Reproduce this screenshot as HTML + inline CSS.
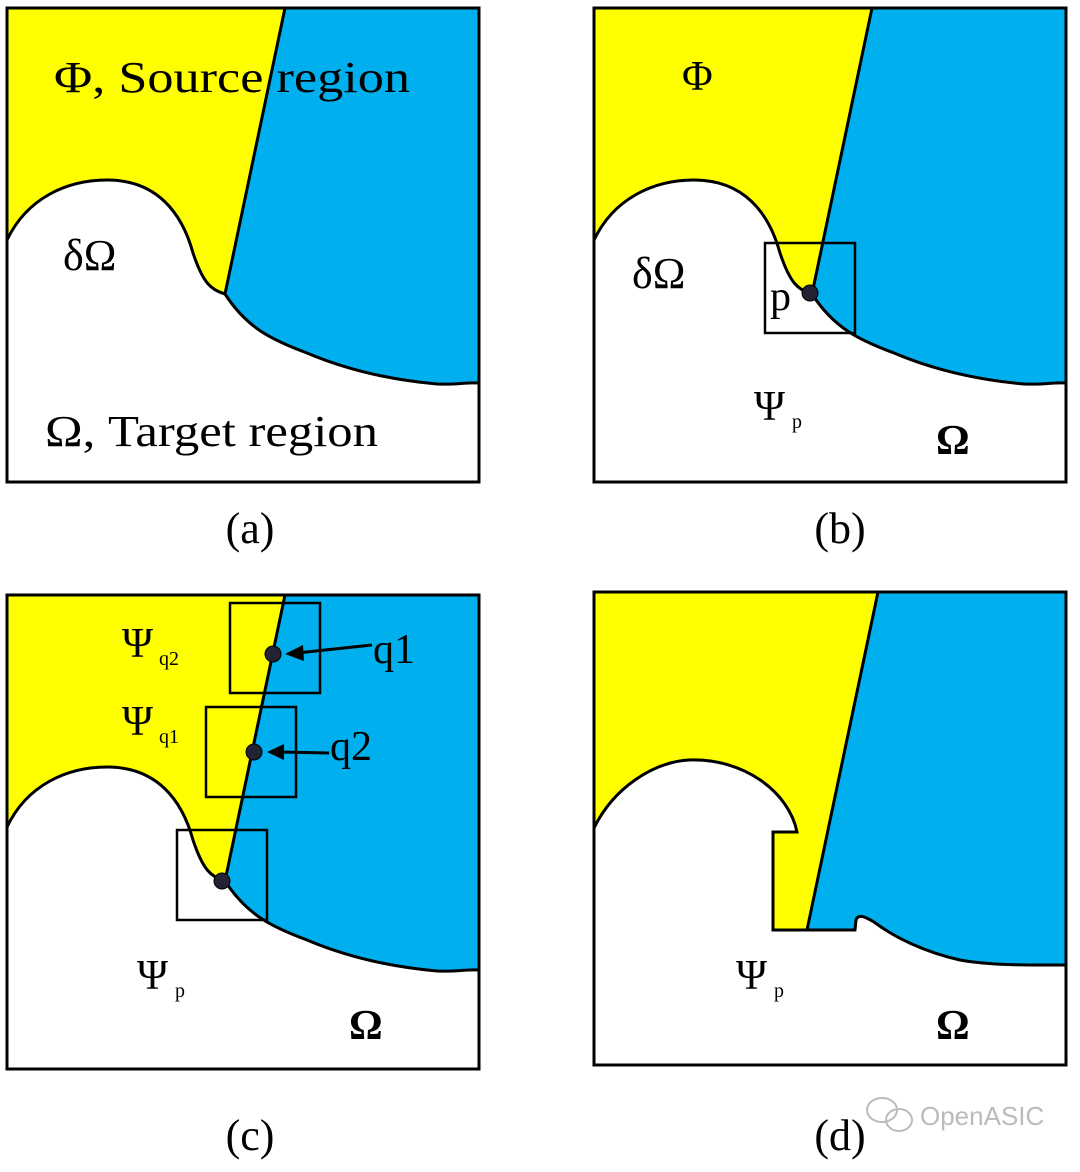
<!DOCTYPE html>
<html><head><style>body{margin:0;background:#fff}</style></head><body>
<svg width="1080" height="1167" viewBox="0 0 1080 1167" xmlns="http://www.w3.org/2000/svg" font-family="Liberation Serif, serif">
<defs>
<path id="wa" d="M0,232 C20,190 60,172 100,172 C150,172 175,205 186,245 C196,275 204,282 218,286 C240,320 265,332 300,345 C340,362 385,372 430,376 C450,377 460,374 472,375 L472,474 L0,474 Z"/>
</defs>
<!-- panel a -->
<g transform="translate(7,8)">
<rect width="472" height="474" fill="#ffff00"/>
<polygon points="278,0 472,0 472,474 150,474 218,286" fill="#00b0ee"/>
<use href="#wa" fill="#fff" stroke="#000" stroke-width="3"/>
<line x1="278" y1="0" x2="218" y2="286" stroke="#000" stroke-width="3"/>
<rect width="472" height="474" fill="none" stroke="#000" stroke-width="3"/>
<text x="47" y="84" font-size="44" textLength="356" lengthAdjust="spacingAndGlyphs">Φ, Source region</text>
<text x="56" y="262" font-size="44">δΩ</text>
<text x="38" y="438" font-size="44" textLength="333" lengthAdjust="spacingAndGlyphs">Ω, Target region</text>
</g>
<text x="250" y="543" font-size="44" text-anchor="middle">(a)</text>
<!-- panel b -->
<g transform="translate(594,8)">
<rect width="472" height="474" fill="#ffff00"/>
<polygon points="278,0 472,0 472,474 150,474 218,286" fill="#00b0ee"/>
<use href="#wa" fill="#fff" stroke="#000" stroke-width="3"/>
<line x1="278" y1="0" x2="218" y2="286" stroke="#000" stroke-width="3"/>
<rect width="472" height="474" fill="none" stroke="#000" stroke-width="3"/>
<rect x="171" y="235" width="90" height="90" fill="none" stroke="#000" stroke-width="2.5"/>
<circle cx="216" cy="285" r="8" fill="#223" stroke="#000"/>
<text x="88" y="82" font-size="42">Φ</text>
<text x="38" y="280" font-size="44">δΩ</text>
<text x="176" y="302" font-size="42">p</text>
<text x="160" y="412" font-size="42">Ψ</text><text x="198" y="420" font-size="20">p</text>
<text x="342" y="446" font-size="42" font-weight="bold">Ω</text>
</g>
<text x="840" y="543" font-size="44" text-anchor="middle">(b)</text>
<!-- panel c -->
<g transform="translate(7,595)">
<rect width="472" height="474" fill="#ffff00"/>
<polygon points="278,0 472,0 472,474 150,474 218,286" fill="#00b0ee"/>
<use href="#wa" fill="#fff" stroke="#000" stroke-width="3"/>
<line x1="278" y1="0" x2="218" y2="286" stroke="#000" stroke-width="3"/>
<rect width="472" height="474" fill="none" stroke="#000" stroke-width="3"/>
<rect x="223" y="8" width="90" height="90" fill="none" stroke="#000" stroke-width="2.5"/>
<rect x="199" y="112" width="90" height="90" fill="none" stroke="#000" stroke-width="2.5"/>
<rect x="170" y="235" width="90" height="90" fill="none" stroke="#000" stroke-width="2.5"/>
<circle cx="266" cy="59" r="8" fill="#223" stroke="#000"/>
<circle cx="247" cy="157" r="8" fill="#223" stroke="#000"/>
<circle cx="215" cy="286" r="8" fill="#223" stroke="#000"/>
<line x1="365" y1="50" x2="290" y2="58" stroke="#000" stroke-width="3"/>
<polygon points="278,59 296,50 297,66" fill="#000"/>
<line x1="322" y1="158" x2="272" y2="157" stroke="#000" stroke-width="3"/>
<polygon points="260,157 277,149 277,165" fill="#000"/>
<text x="366" y="68" font-size="42">q1</text>
<text x="323" y="165" font-size="42">q2</text>
<text x="115" y="62" font-size="42">Ψ</text><text x="152" y="70" font-size="20">q2</text>
<text x="115" y="140" font-size="42">Ψ</text><text x="152" y="148" font-size="20">q1</text>
<text x="130" y="394" font-size="42">Ψ</text><text x="168" y="402" font-size="20">p</text>
<text x="342" y="444" font-size="42" font-weight="bold">Ω</text>
</g>
<text x="250" y="1150" font-size="44" text-anchor="middle">(c)</text>
<!-- panel d -->
<g transform="translate(594,592)">
<rect width="472" height="473" fill="#ffff00"/>
<polygon points="284,0 472,0 472,473 190,473 213,338" fill="#00b0ee"/>
<path d="M0,236 C20,195 60,170 95,168 C150,166 195,200 203,240 L179,240 L179,338 L261,338 L262,328 C264,322 270,324 280,330 C300,345 330,360 366,368 C400,374 440,373 472,373 L472,473 L0,473 Z" fill="#fff" stroke="#000" stroke-width="3"/>
<line x1="284" y1="0" x2="213" y2="338" stroke="#000" stroke-width="3"/>
<rect width="472" height="473" fill="none" stroke="#000" stroke-width="3"/>
<text x="142" y="397" font-size="42">Ψ</text><text x="180" y="405" font-size="20">p</text>
<text x="342" y="447" font-size="42" font-weight="bold">Ω</text>
</g>
<text x="840" y="1150" font-size="44" text-anchor="middle">(d)</text>
<g fill="none" stroke="#bbb" stroke-width="2">
<ellipse cx="882" cy="1110" rx="15" ry="12"/><ellipse cx="899" cy="1120" rx="13" ry="11"/>
</g>
<text x="920" y="1125" font-family="Liberation Sans, sans-serif" font-size="26" fill="#bbb">OpenASIC</text>
</svg>
</body></html>
